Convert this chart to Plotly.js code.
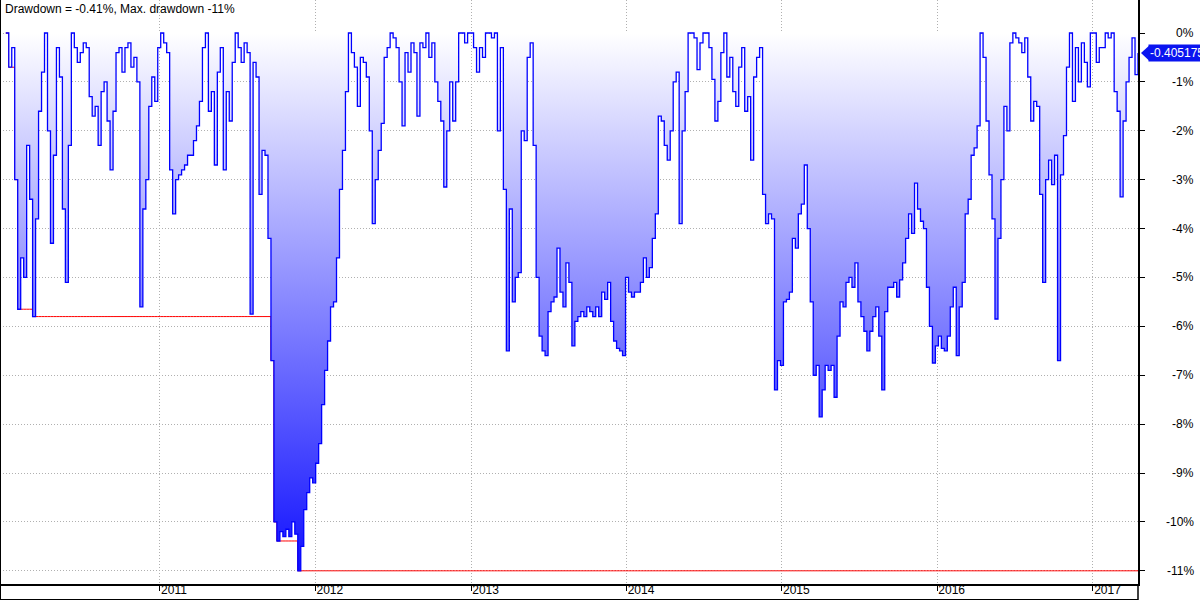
<!DOCTYPE html>
<html>
<head>
<meta charset="utf-8">
<script src="https://cdn.plot.ly/plotly-3.0.1.min.js"></script>
<style>
  html, body { margin: 0; padding: 0; background: #ffffff; }
  #chart { width: 1200px; height: 600px; }
</style>
</head>
<body>
<div id="chart"></div>
<script>
// Weekly drawdown readings (%), one value per week starting Monday 2010-01-04.
// Split into 52-week blocks (roughly one calendar year each).
const firstWeek = '2010-01-04';
const dd2010 = [0,-0.7,-0.3,-3.0,-5.65,-4.6,-5.0,-2.3,-3.4,-5.8,
  -3.8,-1.6,-0.8,0,-2.0,-4.3,-2.5,-0.3,-0.9,-3.6,
  -5.1,-2.3,0,-0.3,-0.6,-0.4,-0.2,-0.3,-1.3,-1.7,
  -1.5,-2.3,-1.2,-1.0,-1.8,-2.8,-1.6,-0.4,-0.3,-0.8,
  -0.3,-0.2,-0.7,-0.5,-1.0,-5.6,-3.6,-3.0,-1.5,-0.9,
  -1.4,-0.3];
const dd2011 = [0,-0.2,-0.4,-2.8,-3.7,-3.0,-2.9,-2.8,
  -2.7,-2.5,-2.5,-2.2,-1.9,-1.4,-0.3,0,-1.6,-1.2,
  -2.7,-0.8,-0.3,-2.8,-1.2,-1.8,-0.6,0,-0.3,-0.6,
  -0.2,-0.4,-5.75,-0.6,-0.9,-3.3,-2.4,-2.5,-4.2,-6.7,
  -10.0,-10.39,-10.2,-10.3,-10.15,-10.3,-10.0,-10.25,-11.0,-10.5,
  -9.75,-9.4,-9.1,-9.2];
const dd2012 = [-8.8,-8.4,-7.6,-6.9,-6.3,-5.6,
  -5.5,-4.6,-3.2,-2.4,-1.2,0,-0.4,-0.7,-1.5,-0.5,
  -0.6,-0.9,-2.0,-3.9,-3.0,-2.4,-1.85,-0.5,-0.3,0,
  -0.1,-0.3,-1.0,-1.9,-0.4,-0.8,-0.2,-0.4,-1.7,-0.2,
  -0.3,0,-0.5,-0.2,-1.0,-1.4,-1.8,-3.15,-2.0,-1.0,
  -1.8,-1.0,0,0,-0.2,0];
const dd2013 = [0,-0.3,-0.8,-0.3,
  -0.5,0,0,-0.1,0,-2.0,-0.3,-3.2,-6.5,-3.6,
  -5.5,-5.0,-4.9,-2.0,-2.2,-0.5,-0.2,-2.3,-5.0,-6.2,
  -6.5,-6.6,-5.7,-5.5,-5.4,-4.4,-5.3,-5.6,-4.7,-5.1,
  -6.4,-5.9,-5.8,-5.7,-5.8,-5.6,-5.7,-5.8,-5.6,-5.8,
  -5.3,-5.45,-5.1,-5.9,-6.3,-6.45,-6.5,-6.6];
const dd2014 = [-5.0,-5.3,
  -5.4,-5.3,-5.3,-5.1,-4.6,-5.0,-4.8,-4.2,-3.7,-1.7,
  -1.8,-2.3,-2.6,-2.0,-1.0,-0.8,-3.9,-2.0,-1.2,0,
  0,-0.1,-0.75,-0.2,0,0,-0.3,-0.95,-1.8,-1.4,
  -0.4,0,-0.9,-0.5,-1.2,-1.5,-0.7,-0.3,-1.6,-1.3,
  -2.6,-0.9,-0.5,-0.3,-3.3,-3.9,-3.7,-3.8,-7.3,-6.7];
const dd2015 = [-6.8,-5.5,-5.45,-5.3,-4.2,-4.4,-3.7,-3.5,-2.7,-4.0,
  -5.5,-7.0,-6.8,-7.85,-7.3,-6.8,-6.9,-6.8,-7.45,-6.2,
  -5.5,-5.6,-5.1,-5.0,-5.2,-4.7,-5.5,-5.8,-6.1,-6.5,
  -6.1,-5.8,-5.6,-6.2,-7.3,-5.7,-5.2,-5.2,-5.1,-5.4,
  -5.05,-4.7,-4.2,-3.7,-4.1,-3.07,-3.6,-3.85,-4.0,-5.2,
  -6.0,-6.75];
const dd2016 = [-6.4,-6.2,-6.45,-6.5,-6.2,-5.6,-5.2,-6.6,
  -5.6,-5.1,-3.7,-3.4,-2.5,-2.35,-1.9,0,-0.5,-1.8,
  -2.9,-3.8,-5.85,-4.2,-3.0,-1.5,-2.0,-0.2,0,-0.1,
  -0.2,-0.4,-0.1,-0.9,-1.8,-1.4,-1.5,-3.3,-5.1,-3.0,
  -2.6,-3.1,-2.5,-6.7,-2.9,-2.1,-0.7,0,-1.4,-0.3,
  -1.0,-0.2,-0.6,-1.1];
const dd2017 = [0,0,-0.6,-0.3,-0.3,0,
  -0.1,0,-1.2,-1.6,-3.35,-1.8,-1.0,-0.5,-0.1,-0.85,-0.41];

const yearTickDates = ['2011-01-01','2012-01-01','2013-01-01','2014-01-01','2015-01-01','2016-01-01','2017-01-01'];
const yearTickLabels = ['2011','2012','2013','2014','2015','2016','2017'];
const pctTicks = [0,-1,-2,-3,-4,-5,-6,-7,-8,-9,-10,-11];
const titleText = 'Drawdown = -0.41%, Max. drawdown -11%';
const lastValueText = '-0.405175';

// ---- build series ----
const drawdown = [].concat(dd2010, dd2011, dd2012, dd2013, dd2014, dd2015, dd2016, dd2017);
const DAY = 86400000;
const t0 = Date.parse(firstWeek + 'T00:00:00Z');
function iso(ms){ return new Date(ms).toISOString().slice(0,19).replace('T',' '); }
const dates = drawdown.map((_, i) => iso(t0 + i*7*DAY));
// running maximum drawdown (cumulative minimum of the drawdown series)
const maxDD = [];
drawdown.reduce((m, v) => { const n = Math.min(m, v); maxDD.push(n); return n; }, 0);
const lastVal = drawdown[drawdown.length-1];

const W = 1200, H = 600;
const mL = 0, mR = 62, mT = 0, mB = 16;
const plotW = W - mL - mR, plotH = H - mT - mB;
const px = x => (x - mL) / plotW;          // pixel -> paper x
const py = y => (H - mB - y) / plotH;      // pixel -> paper y

const xStart = iso(Date.parse('2011-01-01T00:00:00Z') - 375.6*DAY);
const xEnd = dates[dates.length-1];

const font = 'Arial, "Liberation Sans", sans-serif';

const traces = [
  {
    x: dates, y: maxDD, type: 'scatter', mode: 'lines',
    line: {color: '#ff0000', width: 1, shape: 'hv'},
    hoverinfo: 'skip', showlegend: false
  },
  {
    x: dates, y: drawdown, type: 'scatter', mode: 'lines',
    line: {color: '#0000ff', width: 1.3, shape: 'hv'},
    fill: 'tozeroy',
    fillgradient: {type: 'vertical', start: -11.3, stop: 0,
      colorscale: [[0, 'rgb(10,10,255)'], [1, 'rgb(255,255,255)']]},
    hoverinfo: 'skip', showlegend: false
  }
];

const annotations = [
  {xref: 'paper', yref: 'paper', x: px(3), y: 1, xanchor: 'left', yanchor: 'top',
   yshift: 0, text: titleText, showarrow: false,
   font: {family: font, size: 12, color: '#000000'}}
].concat(pctTicks.map(v => ({
   xref: 'paper', yref: 'y', x: px(1196), y: v, xanchor: 'right', yanchor: 'middle',
   text: v + '%', showarrow: false, font: {family: font, size: 12, color: '#000000'}
}))).concat([
  {xref: 'paper', yref: 'y', x: px(1148), y: lastVal, xanchor: 'left', yanchor: 'middle',
   text: lastValueText, showarrow: false, bgcolor: '#0a14f0', borderpad: 1,
   font: {family: font, size: 12, color: '#ffffff'}}
]);

const shapes = [
  // value marker arrow tip
  {type: 'path', xref: 'paper', yref: 'y',
   path: `M ${px(1141)},${lastVal} L ${px(1149)},${lastVal + 0.15} L ${px(1149)},${lastVal - 0.15} Z`,
   fillcolor: '#0a14f0', line: {width: 0}},
  // frame: left, bottom, right extension
  {type: 'line', xref: 'paper', yref: 'paper', x0: px(0.5), x1: px(0.5), y0: py(600), y1: 1,
   line: {color: '#000000', width: 1}},
  {type: 'line', xref: 'paper', yref: 'paper', x0: 0, x1: 1, y0: py(599.5), y1: py(599.5),
   line: {color: '#000000', width: 1}},
  {type: 'line', xref: 'paper', yref: 'paper', x0: 1, x1: 1, y0: py(600), y1: 0,
   line: {color: '#000000', width: 1.5}}
];

const layout = {
  width: W, height: H,
  margin: {l: mL, r: mR, t: mT, b: mB, pad: 0},
  paper_bgcolor: '#ffffff', plot_bgcolor: '#ffffff',
  showlegend: false,
  xaxis: {
    type: 'date', range: [xStart, xEnd],
    tickvals: yearTickDates, ticktext: yearTickLabels,
    ticks: 'outside', ticklen: 5, tickwidth: 1, tickcolor: '#000000',
    ticklabelposition: 'outside right', ticklabelstandoff: -6,
    tickfont: {family: font, size: 12, color: '#000000'},
    showgrid: true, gridcolor: '#b0b0b0', griddash: '1px,2px', gridwidth: 1,
    showline: true, linecolor: '#000000', linewidth: 1.5,
    zeroline: false, fixedrange: true
  },
  yaxis: {
    side: 'right', range: [-11.27, 0.675],
    tickvals: pctTicks,
    ticks: 'outside', ticklen: 5, tickwidth: 1, tickcolor: '#000000',
    showticklabels: false,
    showgrid: true, gridcolor: '#b0b0b0', griddash: '1px,2px', gridwidth: 1,
    showline: true, linecolor: '#000000', linewidth: 1.5,
    zeroline: false, fixedrange: true
  },
  annotations: annotations,
  shapes: shapes
};

Plotly.newPlot('chart', traces, layout, {displayModeBar: false, staticPlot: true});
</script>
</body>
</html>
